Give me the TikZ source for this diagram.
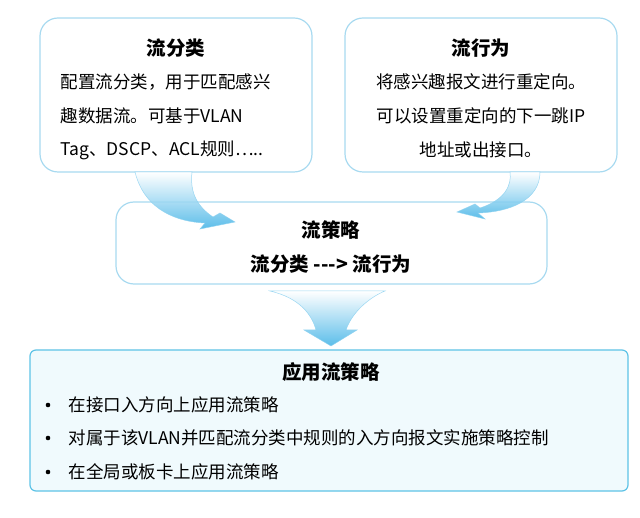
\documentclass[tikz,border=0pt]{standalone}
\usepackage{fontspec}
\setmainfont{Noto Sans CJK SC}
\definecolor{bord}{HTML}{A8DAF0}
\definecolor{bordb}{HTML}{5EC3E6}
\definecolor{fillb}{HTML}{F0FAFD}
\definecolor{arr}{HTML}{3FB2E6}
\tikzset{
  box/.style={draw=bord, line width=1.2pt, rounded corners=18pt, fill=white},
  ttl/.style={font=\fontsize{19.5}{23}\selectfont\bfseries},
  txt/.style={font=\fontsize{17.5}{21}\selectfont},
  fat/.style={top color=white, bottom color=arr, draw=arr!60, line width=0.5pt, opacity=0.85}
}
\begin{document}
\begin{tikzpicture}[x=1pt,y=-1pt]
\useasboundingbox (0,0) rectangle (640,518);
\draw[box] (40,18) rectangle (312,172);
\draw[box] (345,18) rectangle (617,172);
\draw[box] (116,202) rectangle (547,284);
\draw[box, draw=bordb, fill=fillb, rounded corners=6pt] (30,350) rectangle (628,491);
% arrows
\path[fat] (135,172) .. controls (145,212) and (180,222) .. (205,223) -- (200,229) -- (235,222) -- (220,213) -- (213,217) .. controls (195,205) and (190,190) .. (192,172) -- cycle;
\path[fat] (540,172) .. controls (540,200) and (510,212) .. (478,213) -- (485,219) -- (457,212) -- (475,204) -- (480,208) .. controls (505,200) and (512,185) .. (510,172) -- cycle;
\path[fat] (270,291) .. controls (300,298) and (312,315) .. (316,330) -- (304,330) -- (331,346) -- (357,330) -- (346,330) .. controls (352,312) and (370,297) .. (385,291) -- cycle;
% texts
\node[ttl] (t1) at (176,48) {流分类};
\node[txt, anchor=west] (a1) at (57,82) {配置流分类，用于匹配感兴};
\node[txt, anchor=west] (a2) at (57,116) {趣数据流。可基于VLAN};
\node[txt, anchor=west] (a3) at (57,150) {Tag、DSCP、ACL规则…..};
\node[ttl] (t2) at (481,48) {流行为};
\node[txt] (b1) at (481,82) {将感兴趣报文进行重定向。};
\node[txt] (b2) at (481,116) {可以设置重定向的下一跳IP};
\node[txt] (b3) at (481,150) {地址或出接口。};
\node[ttl] (t3) at (331,230) {流策略};
\node[ttl] (t4) at (331,264) {流分类 {-}{-}{-}> 流行为};
\node[ttl] (t5) at (331,372) {应用流策略};
\foreach \y/\s [count=\i] in {405/在接口入方向上应用流策略, 438/对属于该VLAN并匹配流分类中规则的入方向报文实施策略控制, 472/在全局或板卡上应用流策略}{
  \fill (48,\y) circle (2.3pt);
  \node[txt, anchor=west] (c\i) at (65,\y) {\s};
}
\end{tikzpicture}
\end{document}
